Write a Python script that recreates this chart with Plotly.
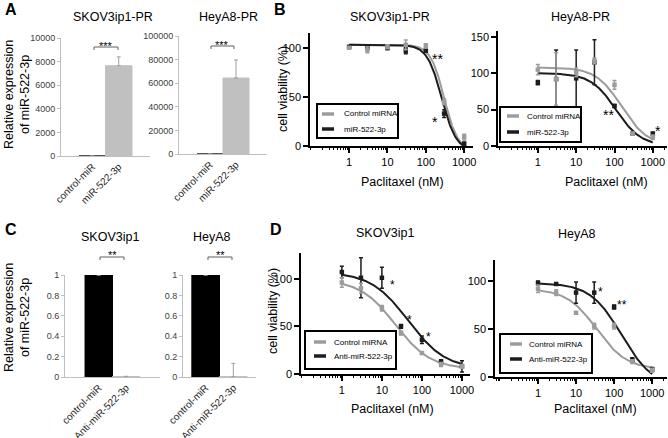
import numpy as np
import plotly.graph_objects as go

W, H = 668, 438
FONT = "Liberation Sans, Arial, sans-serif"
GREY = "#9c9c9c"
BLACK = "#1c1c1c"
BARGREY = "#c0c0c0"
AXGREY = "#bfbfbf"

# ---------------- data ----------------
conc = [1, 3, 10, 30, 100, 300, 1000]

# Panel A (bars)
a_groups = ["control-miR", "miR-522-3p"]
a1_vals = [1, 7650]
a1_err = [0, 750]
a2_vals = [1, 64400]
a2_err = [0, 15300]

# Panel C (bars)
c_groups = ["control-miR", "Anti-miR-522-3p"]
c1_vals = [1.0, 0.005]
c1_err = [0, 0.002]
c2_vals = [1.0, 0.004]
c2_err = [0, 0.13]

# Panel B1 SKOV3ip1-PR
b1_ctrl = [100, 98, 101, 103, 102, 45, 9]
b1_ctrl_err = [1, 3, 2, 5, 2, 3, 3]
b1_mir = [101, 100, 100, 97, 97, 33, 2]
b1_mir_err = [1, 1, 2, 3, 1, 4, 2]
b1_ctrl_fit = [103, -5, 300, 2.43]   # top, bottom, IC50, hill
b1_mir_fit = [103, -5, 259, 2.29]

# Panel B2 HeyA8-PR
b2_ctrl = [105, 92, 101, 117, 84, 17, 12]
b2_ctrl_err = [7, 36, 6, 4, 6, 2, 3]
b2_mir = [87, 92, 93, 115, 55, 17, 17]
b2_mir_err = [3, 40, 39, 31, 2, 2, 2]
b2_ctrl_fit = [108, 0, 155, 1.29]
b2_mir_fit = [100, 0, 109, 1.33]

# Panel D1 SKOV3ip1
d1_ctrl = [96, 90, 69, 43, 22, 10, 8]
d1_ctrl_err = [5, 5, 3, 2, 1, 2, 2]
d1_mir = [107, 101, 101, 50, 36, 13, 8]
d1_mir_err = [6, 21, 11, 2, 4, 2, 6]
d1_ctrl_fit = [99, 5, 21.6, 0.985]
d1_mir_fit = [107, 5, 45.5, 0.93]

# Panel D2 HeyA8
d2_ctrl = [92, 88, 67, 53, 53, 16, 7]
d2_ctrl_err = [4, 3, 1, 3, 3, 2, 2]
d2_mir = [98, 97, 88, 88, 73, 18, 8]
d2_mir_err = [2, 1, 11, 11, 2, 2, 2]
d2_ctrl_fit = [92, 8, 34.7, 1.1]
d2_mir_fit = [98, -10, 156, 1.06]

dose_ticks = [1, 10, 100, 1000]
dose_ticktext = ["1", "10", "100", "1000"]


def px(x):
    return x / W


def py(y):
    return 1 - y / H


def dom_x(x0, x1):
    return [x0 / W, x1 / W]


def dom_y(y_top, y_bot):
    return [1 - y_bot / H, 1 - y_top / H]


def logistic(x, p):
    top, bottom, ic50, h = p
    x = np.asarray(x, dtype=float)
    return bottom + (top - bottom) / (1 + (x / ic50) ** h)


fig = go.Figure()
layout = dict(
    width=W, height=H, margin=dict(l=0, r=0, t=0, b=0, autoexpand=False),
    paper_bgcolor="white", plot_bgcolor="rgba(0,0,0,0)",
    showlegend=False, font=dict(family=FONT, color="black"),
)
shapes = []
annotations = []


def ann(text, x, y, size, xanchor="center", yanchor="middle", bold=False, angle=0, color="black"):
    annotations.append(dict(
        text=("<b>%s</b>" % text) if bold else text, x=px(x), y=py(y), xref="paper", yref="paper",
        xanchor=xanchor, yanchor=yanchor, showarrow=False, textangle=angle,
        font=dict(size=size, family=FONT, color=color),
    ))


# ---------------- bar panels ----------------
def bar_panel(idx, groups, vals, errs, colors, errcolor, xdom, ydom, xrange, yrange, dtick, tickfmt):
    xa = "x" if idx == 1 else "x%d" % idx
    ya = "y" if idx == 1 else "y%d" % idx
    fig.add_trace(go.Bar(
        x=[0, 1], y=vals, width=1.0, xaxis=xa, yaxis=ya,
        marker=dict(color=colors, line=dict(color=colors, width=1)),
        error_y=dict(type="data", array=errs, arrayminus=[0, 0], symmetric=False,
                     color=errcolor, thickness=1, width=2),
    ))
    layout["xaxis" if idx == 1 else "xaxis%d" % idx] = dict(
        domain=xdom, anchor=ya, range=xrange, tickvals=[0, 1], ticktext=groups,
        tickangle=-45, showline=True, linecolor=AXGREY, linewidth=1, ticks="",
        showgrid=False, zeroline=False, automargin=False,
        tickfont=dict(size=10, color="#262626"),
    )
    layout["yaxis" if idx == 1 else "yaxis%d" % idx] = dict(
        domain=ydom, anchor=xa, range=yrange, dtick=dtick, tickformat=tickfmt,
        showline=True, linecolor=AXGREY, linewidth=1, ticks="outside", ticklen=3,
        tickcolor=AXGREY, showgrid=False, zeroline=False, automargin=False,
        tickfont=dict(size=9, color="#404040"),
    )


bar_panel(1, a_groups, a1_vals, a1_err, [BLACK, BARGREY], "#a0a0a0",
          dom_x(61, 150), dom_y(38, 156), [-1.18, 2.18], [0, 10000], 2000, "d")
bar_panel(2, a_groups, a2_vals, a2_err, [BLACK, BARGREY], "#a0a0a0",
          dom_x(179, 267), dom_y(36, 154), [-1.19, 2.19], [0, 100000], 20000, "d")
bar_panel(5, c_groups, c1_vals, c1_err, ["black", BARGREY], "#a0a0a0",
          dom_x(65, 160), dom_y(275, 377), [-1.23, 2.23], [0, 1], 0.2, "")
bar_panel(6, c_groups, c2_vals, c2_err, ["black", BARGREY], "#a0a0a0",
          dom_x(183, 256), dom_y(275, 377), [-0.82, 1.82], [0, 1], 0.2, "")


# ---------------- dose-response panels ----------------
def dose_panel(idx, ctrl, ctrl_err, mir, mir_err, ctrl_fit, mir_fit, xdom, ydom, xrange, yrange, ytickvals):
    xa = "x%d" % idx
    ya = "y%d" % idx
    xs = np.logspace(0, 3, 200)
    for vals, errs, fit, col in ((ctrl, ctrl_err, ctrl_fit, GREY), (mir, mir_err, mir_fit, BLACK)):
        fig.add_trace(go.Scatter(
            x=xs, y=logistic(xs, fit), mode="lines", xaxis=xa, yaxis=ya,
            line=dict(color=col, width=2), hoverinfo="skip",
        ))
    for vals, errs, col in ((mir, mir_err, BLACK), (ctrl, ctrl_err, GREY)):
        fig.add_trace(go.Scatter(
            x=conc, y=vals, mode="markers", xaxis=xa, yaxis=ya, cliponaxis=False,
            marker=dict(symbol="square", size=4.5, color=col),
            error_y=dict(type="data", array=errs, color=col, thickness=1.5, width=2),
        ))
    layout["xaxis%d" % idx] = dict(
        domain=xdom, anchor=ya, type="log", range=xrange,
        tickmode="array", tickvals=dose_ticks, ticktext=dose_ticktext,
        ticks="outside", ticklen=5, tickwidth=1.5, tickcolor="black",
        showline=True, linecolor="black", linewidth=1.5, showgrid=False, zeroline=False,
        automargin=False, tickfont=dict(size=11, color="black"),
        minor=dict(ticks="outside", ticklen=2.5, tickwidth=1, tickcolor="black", dtick="D1", showgrid=False),
    )
    layout["yaxis%d" % idx] = dict(
        domain=ydom, anchor=xa, range=yrange, tickvals=ytickvals,
        ticks="outside", ticklen=5, tickwidth=1.5, tickcolor="black",
        showline=True, linecolor="black", linewidth=1.5, showgrid=False, zeroline=False,
        automargin=False, tickfont=dict(size=11, color="black"),
    )


dose_panel(3, b1_ctrl, b1_ctrl_err, b1_mir, b1_mir_err, b1_ctrl_fit, b1_mir_fit,
           dom_x(310, 473), dom_y(33, 146), [-1.02, 3.23], [0, 115], [0, 50, 100])
dose_panel(4, b2_ctrl, b2_ctrl_err, b2_mir, b2_mir_err, b2_ctrl_fit, b2_mir_fit,
           dom_x(498, 667), dom_y(31, 146), [-1.04, 3.37], [0, 158], [0, 50, 100, 150])
dose_panel(7, d1_ctrl, d1_ctrl_err, d1_mir, d1_mir_err, d1_ctrl_fit, d1_mir_fit,
           dom_x(301, 470), dom_y(253, 374), [-1.02, 3.2], [0, 127], [0, 50, 100])
dose_panel(8, d2_ctrl, d2_ctrl_err, d2_mir, d2_mir_err, d2_ctrl_fit, d2_mir_fit,
           dom_x(495, 667), dom_y(260, 377), [-1.13, 3.39], [0, 122], [0, 50, 100])


# ---------------- legends (boxes drawn by hand) ----------------
def legend_box(x0, y0, x1, y1, labels, ys, sx0, sx1, tx):
    shapes.append(dict(type="rect", xref="paper", yref="paper", x0=px(x0), x1=px(x1), y0=py(y1), y1=py(y0),
                       line=dict(color="black", width=2), fillcolor="white", layer="above"))
    for lab, yy, col in zip(labels, ys, (GREY, BLACK)):
        shapes.append(dict(type="line", xref="paper", yref="paper", x0=px(sx0), x1=px(sx1), y0=py(yy), y1=py(yy),
                           line=dict(color=col, width=3.5), layer="above"))
        ann(lab, tx, yy, 8, xanchor="left")


legend_box(317, 104, 398, 138, ["Control miRNA", "miR-522-3p"], [114, 129], 322, 334, 342)
legend_box(500, 107, 581, 142, ["Control miRNA", "miR-522-3p"], [116, 132], 507, 519, 525)
legend_box(305, 331, 396, 369, ["Control miRNA", "Anti-miR-522-3p"], [342, 356], 314, 326, 332)
legend_box(500, 334, 592, 373, ["Control miRNA", "Anti-miR-522-3p"], [344, 359], 510, 522, 527)


# ---------------- brackets ----------------
def bracket(x0, x1, y, drop=3):
    shapes.append(dict(type="path", xref="paper", yref="paper",
                       path="M %f %f L %f %f L %f %f L %f %f" % (
                           px(x0), py(y + drop), px(x0), py(y), px(x1), py(y), px(x1), py(y + drop)),
                       line=dict(color="#606060", width=1)))


bracket(94, 118, 47)
bracket(211, 234, 46)
bracket(100, 124, 257)
bracket(208, 232, 257)

# significance stars (asterisk glyph sits high, so anchor slightly lower)
ann("***", 106, 46, 11)
ann("***", 222, 45, 11)
ann("**", 112, 255, 11)
ann("**", 220, 255, 11)
ann("**", 437, 59, 14)
ann("*", 435, 122, 14)
ann("**", 608, 115, 14)
ann("*", 658, 131, 14)
ann("*", 392, 285, 12)
ann("*", 409, 320, 12)
ann("*", 428, 337, 12)
ann("*", 600, 292, 12)
ann("**", 622, 305, 12)

# ---------------- titles / labels ----------------
ann("A", 3, 10, 16, xanchor="left", bold=True)
ann("B", 272, 10, 16, xanchor="left", bold=True)
ann("C", 3, 229, 16, xanchor="left", bold=True)
ann("D", 268, 229, 16, xanchor="left", bold=True)

ann("SKOV3ip1-PR", 113, 17, 12.5)
ann("HeyA8-PR", 228, 17, 12.5)
ann("SKOV3ip1-PR", 390, 17, 12.5)
ann("HeyA8-PR", 580, 17, 12.5)
ann("SKOV3ip1", 110, 237, 12.5)
ann("HeyA8", 212, 237, 12.5)
ann("SKOV3ip1", 385, 233, 12.5)
ann("HeyA8", 577, 234, 12.5)

ann("Relative expression<br>of miR-522-3p", 17, 95, 12.5, angle=-90)
ann("Relative expression<br>of miR-522-3p", 17, 318, 12.5, angle=-90)
ann("cell viability (%)", 283, 89, 12.5, angle=-90)
ann("cell viability (%)", 273, 311, 12.5, angle=-90)
ann("Paclitaxel (nM)", 402, 182, 12.5)
ann("Paclitaxel (nM)", 606, 182, 12.5)
ann("Paclitaxel (nM)", 393, 409, 12.5)
ann("Paclitaxel (nM)", 595, 409, 12.5)

layout["shapes"] = shapes
layout["annotations"] = annotations
fig.update_layout(**layout)
fig.write_html(
    "out.html",
    config={"displayModeBar": False},
    post_script="document.body.style.margin='0';document.body.style.padding='0';document.body.style.overflow='hidden';",
)
